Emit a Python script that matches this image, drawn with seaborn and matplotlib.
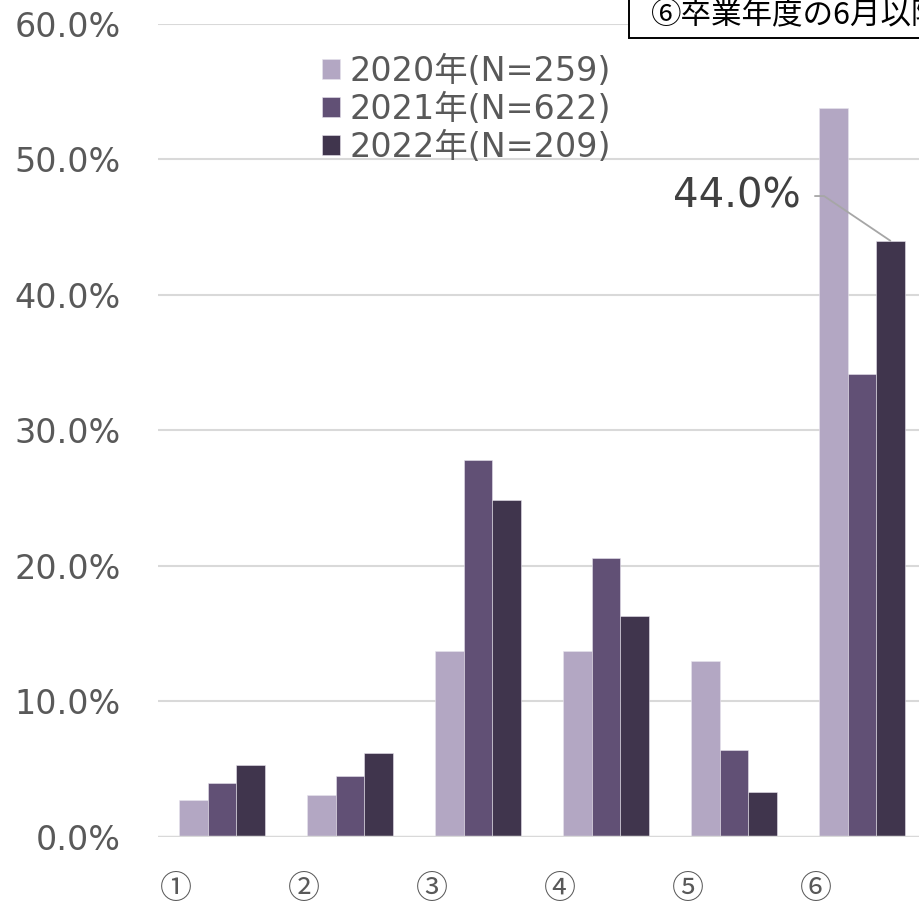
import seaborn as sns
import matplotlib.pyplot as plt
from matplotlib.patches import Rectangle
import pandas as pd

# chart values (percent)
categories = ["①", "②", "③", "④", "⑤", "⑥"]
series = ["2020年(N=259)", "2021年(N=622)", "2022年(N=209)"]
values_2020 = [2.7, 3.1, 13.7, 13.7, 13.0, 53.8]
values_2021 = [4.0, 4.5, 27.8, 20.6, 6.4, 34.2]
values_2022 = [5.3, 6.2, 24.9, 16.3, 3.3, 44.0]
colors = ["#b3a2c8", "#604a7b", "#403151"]
y_ticks = [0, 10, 20, 30, 40, 50, 60]
note_text = "⑥卒業年度の6月以降"
callout_value = 44.0

df = pd.DataFrame({
    "category": categories * 3,
    "series": [series[0]] * 6 + [series[1]] * 6 + [series[2]] * 6,
    "value": values_2020 + values_2021 + values_2022,
})

sns.set_style("white")
plt.rcParams["font.family"] = ["DejaVu Sans", "Noto Sans CJK JP"]

fig = plt.figure(figsize=(9.19, 9.07), dpi=100)
ax = fig.add_axes([0.1719, 0.0772, 0.8357, 0.8964])

sns.barplot(data=df, x="category", y="value", hue="series", palette=colors,
            width=0.665, edgecolor="#e8e4ee", linewidth=0.4, ax=ax)

ax.set_ylim(0, 60)
ax.set_xlim(-0.5, 5.5)
ax.set_yticks(y_ticks)
ax.set_yticklabels([f"{t:.1f}%" for t in y_ticks])
ax.set_xticks([i - 0.36 for i in range(len(categories))])
ax.set_xticklabels(categories, family=["Noto Sans CJK JP", "DejaVu Sans"])
ax.set_xlabel("")
ax.set_ylabel("")
ax.tick_params(axis="y", length=0, pad=27, labelsize=24, labelcolor="#595959")
ax.tick_params(axis="x", length=0, pad=26, labelsize=23, labelcolor="#595959")
for t in y_ticks[1:]:
    ax.axhline(t, color="#d9d9d9", lw=1.5, zorder=0)
ax.axhline(0, color="#d9d9d9", lw=2.5, zorder=3)
for s in ax.spines.values():
    s.set_visible(False)

handles, labels = ax.get_legend_handles_labels()
ax.legend(handles, labels, loc="upper left", bbox_to_anchor=(0.2135, 0.962),
          frameon=False, fontsize=24, labelcolor="#595959",
          handlelength=0.55, handleheight=0.55, handletextpad=0.28,
          labelspacing=0.15, borderpad=0, borderaxespad=0)

ax.annotate(f"{callout_value:.1f}%", xy=(5 + 0.665 / 3, callout_value),
            xytext=(4.52, 47.3), ha="right", va="center", fontsize=29,
            color="#404040",
            arrowprops=dict(arrowstyle="-", color="#a6a6a6", lw=1.3,
                            shrinkA=8, shrinkB=0, relpos=(1, 0.5),
                            connectionstyle="angle,angleA=0,angleB=146,rad=0"))

fig.patches.append(Rectangle((629 / 919, 1 - 38 / 907), 0.4, 0.1,
                             transform=fig.transFigure, fc="white",
                             ec="black", lw=1.4, zorder=5))
fig.text(651 / 919, 1 - 23 / 907, note_text, fontsize=22, color="black",
         ha="left", va="baseline", zorder=6,
         family=["Noto Sans CJK JP", "DejaVu Sans"])

fig.savefig("out.png", dpi=100)
plt.close(fig)
